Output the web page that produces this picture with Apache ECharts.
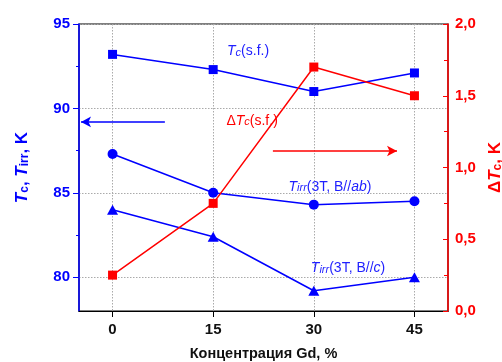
<!DOCTYPE html>
<html>
<head>
<meta charset="utf-8">
<script src="https://cdn.jsdelivr.net/npm/echarts@6/dist/echarts.min.js"></script>
<style>
  html, body { margin: 0; padding: 0; background: #fff; }
  #chart { width: 502px; height: 362px; }
</style>
</head>
<body>
<div id="chart"></div>
<script>
// Gd concentration, %
const gdPercent = [0, 15, 30, 45];
// Critical temperature of the single-crystal film, K
const tcSf = [93.2, 92.3, 91.0, 92.1];
// Irreversibility temperature at 3 T, B // ab, K
const tirrAb = [87.3, 85.0, 84.3, 84.5];
// Irreversibility temperature at 3 T, B // c, K
const tirrC = [84.0, 82.4, 79.2, 80.0];
// Transition width, K
const deltaTc = [0.25, 0.75, 1.7, 1.5];

const xTicks = [0, 15, 30, 45];
const leftTicks = [80, 85, 90, 95];
const leftMinorTicks = [82.5, 87.5, 92.5];

const BLUE = '#0000ff';
const TEXT_BLUE = '#1f1fff';
const RED = '#ff0000';
const FONT = '"Liberation Sans", Arial, sans-serif';

const pairs = ys => gdPercent.map((x, i) => [x, ys[i]]);

// rich styles for italic symbols with subscripts
function richSet(color, size) {
  return {
    n: { color, fontSize: size, fontFamily: FONT },
    i: { color, fontSize: size, fontFamily: FONT, fontStyle: 'italic' },
    s: { color, fontSize: Math.round(size * 0.75), fontFamily: FONT, fontStyle: 'italic',
         verticalAlign: 'bottom', lineHeight: 6 }
  };
}
function richBold(color, size) {
  return {
    n: { color, fontSize: size, fontFamily: FONT, fontWeight: 'bold' },
    i: { color, fontSize: size, fontFamily: FONT, fontWeight: 'bold', fontStyle: 'italic' },
    s: { color, fontSize: Math.round(size * 0.7), fontFamily: FONT, fontWeight: 'bold',
         verticalAlign: 'bottom', lineHeight: 6 }
  };
}

function note(coord, text, color) {
  return {
    coord,
    symbol: 'circle',
    symbolSize: 0,
    label: {
      show: true,
      position: 'inside',
      formatter: text,
      rich: richSet(color, 14)
    }
  };
}

const chart = echarts.init(document.getElementById('chart'), null, { renderer: 'canvas' });

const commaFmt = v => String(v.toFixed(1)).replace('.', ',');
const gridLine = { show: true, lineStyle: { color: '#aaa', type: [1.5, 1.5], width: 1 } };

chart.setOption({
  animation: false,
  backgroundColor: '#fff',
  grid: {
    left: 79, right: 54, top: 24, bottom: 51,
    outerBoundsMode: 'none', containLabel: false,
    show: true, borderColor: '#000', borderWidth: 1.2, backgroundColor: 'transparent'
  },
  xAxis: {
    type: 'value',
    min: -5, max: 50,
    name: 'Концентрация Gd, %',
    nameLocation: 'middle',
    nameGap: 35,
    nameTextStyle: { color: '#111', fontSize: 14.5, fontWeight: 'bold', fontFamily: FONT },
    axisLine: { onZero: false, lineStyle: { color: '#000', width: 1.2 } },
    axisTick: { customValues: xTicks, length: 6, lineStyle: { color: '#000' } },
    axisLabel: { customValues: xTicks, color: '#111', fontSize: 15, fontWeight: 'bold', fontFamily: FONT, margin: 11 },
    splitLine: gridLine
  },
  yAxis: [
    {
      type: 'value',
      position: 'left',
      min: 78, max: 95,
      name: '{i|T}{s|c}{n|, }{i|T}{s|irr}{n|, K}',
      nameLocation: 'middle',
      nameRotate: 90,
      nameGap: 48,
      nameTextStyle: { rich: richBold(BLUE, 17) },
      axisLine: { show: true, onZero: false, lineStyle: { color: BLUE, width: 1.5 } },
      axisTick: { customValues: leftTicks, length: 6, lineStyle: { color: BLUE } },
      axisLabel: { customValues: leftTicks, color: BLUE, fontSize: 15, fontWeight: 'bold', fontFamily: FONT, margin: 9 },
      splitLine: gridLine
    },
    {
      type: 'value',
      position: 'right',
      min: 0, max: 2, interval: 0.5,
      name: '{n|Δ}{i|T}{s|c}{n|, K}',
      nameLocation: 'middle',
      nameRotate: 90,
      nameGap: 37,
      nameTextStyle: { rich: richBold(RED, 17) },
      axisLine: { show: true, onZero: false, lineStyle: { color: RED, width: 1.5 } },
      axisTick: { inside: true, length: 5, lineStyle: { color: RED } },
      minorTick: { show: true, splitNumber: 2, length: 4, lineStyle: { color: RED } },
      axisLabel: { color: RED, fontSize: 15, fontWeight: 'bold', fontFamily: FONT, margin: 7, formatter: commaFmt },
      splitLine: { show: false }
    },
    {
      // minor ticks of the left scale
      type: 'value',
      position: 'left',
      min: 78, max: 95,
      axisLine: { show: false, onZero: false },
      axisTick: { customValues: leftMinorTicks, length: 3, lineStyle: { color: BLUE } },
      axisLabel: { show: false },
      splitLine: { show: false }
    }
  ],
  series: [
    {
      name: 'Tc',
      type: 'line',
      yAxisIndex: 0,
      data: pairs(tcSf),
      symbol: 'rect', symbolSize: 9,
      itemStyle: { color: BLUE },
      lineStyle: { color: BLUE, width: 1.5 },
      markPoint: { data: [note([20.2, 93.4], '{i|T}{s|c}{n|(s.f.)}', TEXT_BLUE)] },
      markLine: {
        silent: true,
        symbol: ['none', 'arrow'],
        symbolSize: [8, 10],
        label: { show: false },
        lineStyle: { color: BLUE, width: 1.5, type: 'solid' },
        data: [[{ coord: [7.8, 89.2] }, { coord: [-4.7, 89.2] }]]
      }
    },
    {
      name: 'Tirr ab',
      type: 'line',
      yAxisIndex: 0,
      data: pairs(tirrAb),
      symbol: 'circle', symbolSize: 10,
      itemStyle: { color: BLUE },
      lineStyle: { color: BLUE, width: 1.5 },
      markPoint: { data: [note([32.4, 85.35], '{i|T}{s|irr}{n|(3T, B//}{i|ab}{n|)}', TEXT_BLUE)] }
    },
    {
      name: 'Tirr c',
      type: 'line',
      yAxisIndex: 0,
      data: pairs(tirrC),
      symbol: 'triangle', symbolSize: [11, 10],
      itemStyle: { color: BLUE },
      lineStyle: { color: BLUE, width: 1.5 },
      markPoint: { data: [note([35.1, 80.55], '{i|T}{s|irr}{n|(3T, B//}{i|c}{n|)}', TEXT_BLUE)] }
    },
    {
      name: 'dTc',
      type: 'line',
      yAxisIndex: 1,
      data: pairs(deltaTc),
      symbol: 'rect', symbolSize: 9,
      itemStyle: { color: RED },
      lineStyle: { color: RED, width: 1.5 },
      markPoint: { data: [note([20.8, 1.325], '{n|Δ}{i|T}{s|c}{n|(s.f.)}', RED)] },
      markLine: {
        silent: true,
        symbol: ['none', 'arrow'],
        symbolSize: [8, 10],
        label: { show: false },
        lineStyle: { color: RED, width: 1.5, type: 'solid' },
        data: [[{ coord: [23.9, 1.115] }, { coord: [42.4, 1.115] }]]
      }
    }
  ]
});
</script>
</body>
</html>
